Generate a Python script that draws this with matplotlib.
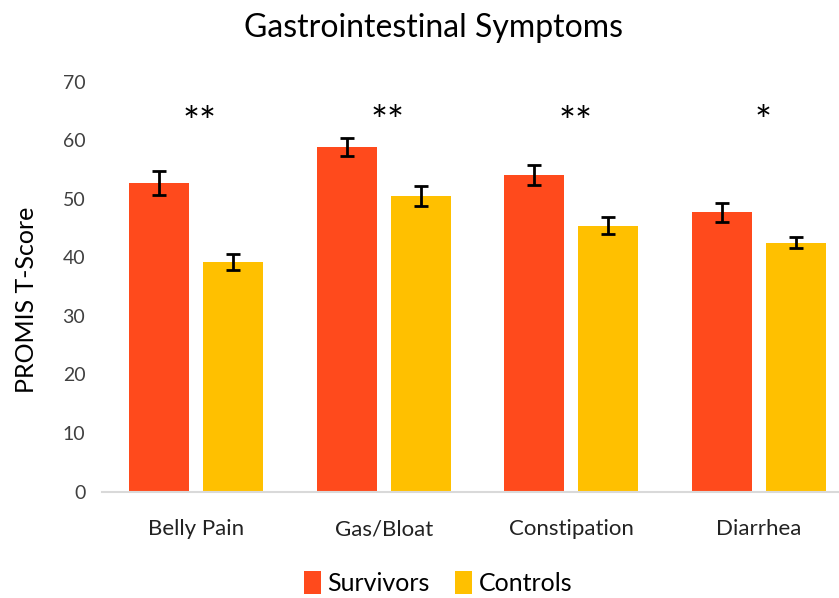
import numpy as np
import matplotlib.pyplot as plt

# 데이터
categories = ['Belly Pain', 'Gas/Bloat', 'Constipation', 'Diarrhea']
survivors = [52.7, 58.8, 54.1, 47.7]
survivors_err = [2.0, 1.5, 1.7, 1.6]
controls = [39.2, 50.4, 45.4, 42.5]
controls_err = [1.3, 1.7, 1.5, 0.9]
stars = ['**', '**', '**', '*']
star_y = [62.6, 62.8, 62.7, 62.9]

plt.rcParams['font.family'] = ['Lato', 'DejaVu Sans']

fig = plt.figure(figsize=(8.39, 5.98), dpi=100)
ax = fig.add_axes([102 / 839, 0.178, 751 / 839, 0.6855])

x = np.arange(len(categories))
w = 0.32
off = 0.197
err_kw = dict(ecolor='black', elinewidth=2, capsize=5, capthick=2)
ax.bar(x - off, survivors, w, yerr=survivors_err, color='#FF4A1C',
       error_kw=err_kw, label='Survivors', zorder=2)
ax.bar(x + off, controls, w, yerr=controls_err, color='#FFC000',
       error_kw=err_kw, label='Controls', zorder=2)

# 유의성 표시
for i, s in enumerate(stars):
    ax.text(x[i] + 0.02, star_y[i], s, ha='center', va='center', fontsize=29)

ax.set_xlim(-0.5, 3.5)
ax.set_ylim(0, 70)
ax.set_yticks(range(0, 71, 10))
ax.set_xticks(x)
ax.set_xticklabels(categories, fontsize=16)
ax.tick_params(axis='y', labelsize=14, length=0, pad=12, colors='#404040')
ax.tick_params(axis='x', length=0, pad=20)
for t in ax.get_xticklabels():
    t.set_color('#222222')

for sp in ['top', 'right', 'left']:
    ax.spines[sp].set_visible(False)
ax.spines['bottom'].set_color('#D9D9D9')
ax.spines['bottom'].set_linewidth(1.5)

ax.set_ylabel('PROMIS T-Score', fontsize=18)
ax.yaxis.set_label_coords(-0.085, 0.467)
fig.text(433 / 839, 1 - 28 / 598, 'Gastrointestinal Symptoms', ha='center',
         va='center', fontsize=23)

fig.legend(loc='center', bbox_to_anchor=(438 / 839, 1 - 583 / 598), ncol=2,
           frameon=False, fontsize=18, handlelength=0.7, handleheight=1.0,
           handletextpad=0.25, columnspacing=1.0)

fig.savefig('out.png', dpi=100)
